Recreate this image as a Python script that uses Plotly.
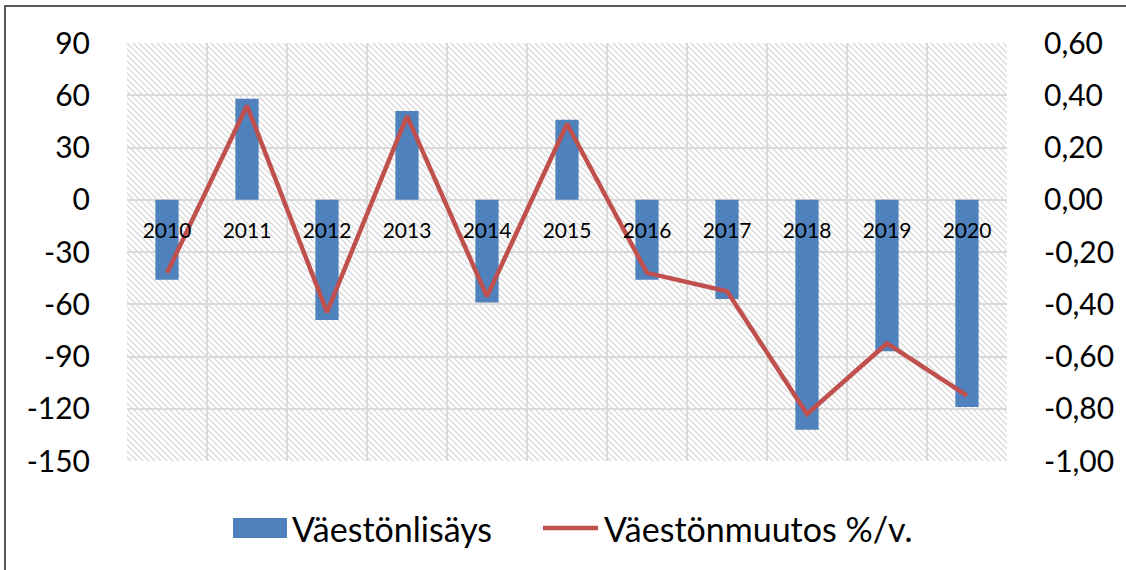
import base64
import plotly.graph_objects as go

years = ["2010", "2011", "2012", "2013", "2014", "2015", "2016", "2017", "2018", "2019", "2020"]
vaestonlisays = [-46, 58, -69, 51, -59, 46, -46, -57, -132, -87, -119]
vaestonmuutos = [-0.28, 0.36, -0.43, 0.32, -0.37, 0.29, -0.28, -0.35, -0.82, -0.55, -0.75]

left_ticks = [90, 60, 30, 0, -30, -60, -90, -120, -150]
left_labels = ["90", "60", "30", "0", "-30", "-60", "-90", "-120", "-150"]
right_ticks = [0.6, 0.4, 0.2, 0.0, -0.2, -0.4, -0.6, -0.8, -1.0]
right_labels = ["0,60", "0,40", "0,20", "0,00", "-0,20", "-0,40", "-0,60", "-0,80", "-1,00"]
series_names = ["Väestönlisäys", "Väestönmuutos %/v."]

BAR_COLOR = "#4f81bd"
LINE_COLOR = "#c0504d"
FONT = "Lato"
W, H = 1126, 570
L, R, T, B = 127, 119, 43, 109
PW, PH = W - L - R, H - T - B


def px_x(p):
    return (p - L) / PW


def px_y(p):
    return (T + PH - p) / PH


svg = (
    f'<svg xmlns="http://www.w3.org/2000/svg" width="{PW}" height="{PH}" viewBox="0 0 {PW} {PH}">'
    '<defs><pattern id="p" width="6" height="6" patternUnits="userSpaceOnUse">'
    '<path d="M-1,-1 L7,7 M-1,5 L1,7 M5,-1 L7,1" stroke="#dadada" stroke-width="1.4"/>'
    '</pattern></defs>'
    f'<rect width="{PW}" height="{PH}" fill="url(#p)"/></svg>'
)
svg_uri = "data:image/svg+xml;base64," + base64.b64encode(svg.encode()).decode()

fig = go.Figure()
fig.add_trace(go.Bar(
    x=years, y=vaestonlisays, name=series_names[0],
    marker=dict(color=BAR_COLOR, line=dict(width=0)), width=0.29, yaxis="y",
))
fig.add_trace(go.Scatter(
    x=years, y=vaestonmuutos, name=series_names[1], mode="lines",
    line=dict(color=LINE_COLOR, width=4.5), yaxis="y2",
))

# custom legend (Excel-style wide swatches)
legend_shapes = [
    dict(type="rect", xref="paper", yref="paper",
         x0=px_x(233), x1=px_x(287), y0=px_y(538), y1=px_y(518),
         fillcolor=BAR_COLOR, line=dict(width=0)),
    dict(type="line", xref="paper", yref="paper",
         x0=px_x(543), x1=px_x(598), y0=px_y(528), y1=px_y(528),
         line=dict(color=LINE_COLOR, width=4.5)),
]
legend_annotations = [
    dict(text=series_names[0], xref="paper", yref="paper", x=px_x(290), y=px_y(528),
         xanchor="left", yanchor="middle", showarrow=False,
         font=dict(family=FONT, size=34, color="black")),
    dict(text=series_names[1], xref="paper", yref="paper", x=px_x(602), y=px_y(528),
         xanchor="left", yanchor="middle", showarrow=False,
         font=dict(family=FONT, size=34, color="black")),
]

fig.update_layout(
    width=W, height=H,
    margin=dict(l=L, r=R, t=T, b=B, pad=0, autoexpand=False),
    paper_bgcolor="white", plot_bgcolor="white",
    font=dict(family=FONT, color="black"),
    showlegend=False,
    xaxis=dict(
        type="category", anchor="free", position=0.625,
        showgrid=True, gridcolor="#d9d9d9", gridwidth=2, tickson="boundaries",
        ticks="", showline=False, zeroline=False, automargin=False,
        tickfont=dict(family=FONT, size=21, color="black"),
        ticklabelstandoff=16,
        range=[-0.5, 10.5],
    ),
    yaxis=dict(
        range=[-150, 90], tickvals=left_ticks, ticktext=left_labels,
        showgrid=True, gridcolor="#d9d9d9", gridwidth=2, zeroline=False,
        tickfont=dict(family=FONT, size=30, color="black"), automargin=False,
        ticklabelstandoff=36, showline=False, ticks="",
    ),
    yaxis2=dict(
        range=[-1.0, 0.6], tickvals=right_ticks, ticktext=right_labels,
        overlaying="y", side="right", showgrid=False, zeroline=False,
        tickfont=dict(family=FONT, size=30, color="black"), automargin=False,
        ticklabelstandoff=36, showline=False, ticks="",
    ),
    images=[dict(source=svg_uri, xref="paper", yref="paper", x=0, y=1,
                 sizex=1, sizey=1, sizing="stretch", layer="below",
                 xanchor="left", yanchor="top")],
    shapes=[dict(type="rect", xref="paper", yref="paper",
                 x0=px_x(5), x1=1.3, y0=-0.4, y1=px_y(6),
                 line=dict(color="#595959", width=2), fillcolor="rgba(0,0,0,0)",
                 layer="above")] + legend_shapes,
    annotations=legend_annotations,
)

fig.write_html("out.html", config={"displayModeBar": False},
               post_script="document.body.style.margin='0';")
